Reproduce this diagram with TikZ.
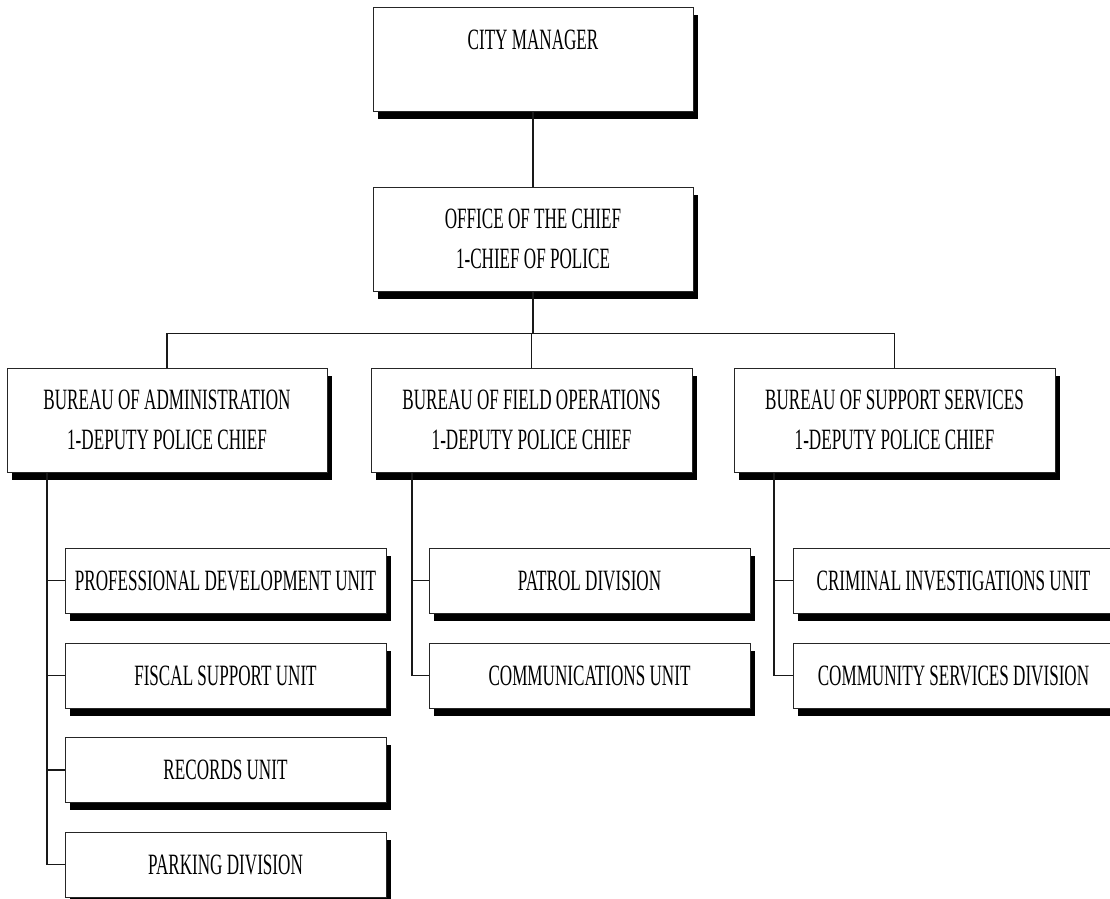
\documentclass[tikz,border=0pt]{standalone}
\usepackage{fontspec}
\setmainfont{Liberation Serif}[FakeStretch=0.58]
\usetikzlibrary{shadows}
\tikzset{
  orgbox/.style={draw=black!85, line width=1pt, fill=white, rectangle, align=center,
    inner sep=0pt, font=\fontsize{29.5}{40}\selectfont,
    drop shadow={shadow xshift=5pt, shadow yshift=-7.5pt, opacity=1, fill=black}},
  bigbox/.style={orgbox, minimum width=320pt, minimum height=104pt},
  subbox/.style={orgbox, minimum width=321pt, minimum height=65pt},
  link/.style={draw=black!90, line width=1.4pt}
}
\begin{document}
\begin{tikzpicture}[x=1pt, y=-1pt]
\clip (0,0) rectangle (1110,898);
\fill[white] (0,0) rectangle (1110,898);

\node[bigbox, minimum height=103.5pt] (cm) at (533,59.25) {CITY MANAGER\\\mbox{}};
\node[bigbox] (oc) at (533,239) {OFFICE OF THE CHIEF\\1-CHIEF OF POLICE};

\node[bigbox] (adm) at (167,420) {BUREAU OF ADMINISTRATION\\1-DEPUTY POLICE CHIEF};
\node[bigbox, minimum width=321pt] (fld) at (531.5,420) {BUREAU OF FIELD OPERATIONS\\1-DEPUTY POLICE CHIEF};
\node[bigbox, minimum width=321pt] (sup) at (894.5,420) {BUREAU OF SUPPORT SERVICES\\1-DEPUTY POLICE CHIEF};

\node[subbox] (pdu) at (225.5,580.5) {PROFESSIONAL DEVELOPMENT UNIT};
\node[subbox] (fsu) at (225.5,675.5) {FISCAL SUPPORT UNIT};
\node[subbox] (rec) at (225.5,770) {RECORDS UNIT};
\node[subbox] (prk) at (225.5,864.5) {PARKING DIVISION};

\node[subbox] (pat) at (589.5,580.5) {PATROL DIVISION};
\node[subbox] (com) at (589.5,675.5) {COMMUNICATIONS UNIT};

\node[subbox] (ciu) at (953.5,580.5) {CRIMINAL INVESTIGATIONS UNIT};
\node[subbox] (csd) at (953.5,675.5) {COMMUNITY SERVICES DIVISION};

\coordinate (bus) at (533,333.5);
\coordinate (ax) at (47,0);
\coordinate (fx) at (412,0);
\coordinate (sx) at (774,0);

\draw[link] (cm.south) -- (oc.north);
\draw[link] (oc.south) -- (bus);
\draw[link] (adm.north) |- (bus) -| (sup.north);
\draw[link] (fld.north) -- (fld.north |- bus);

\draw[link] (adm.south -| ax) |- (prk.west);
\draw[link] (ax |- pdu.west) -- (pdu.west);
\draw[link] (ax |- fsu.west) -- (fsu.west);
\draw[link] (ax |- rec.west) -- (rec.west);

\draw[link] (fld.south -| fx) |- (com.west);
\draw[link] (fx |- pat.west) -- (pat.west);

\draw[link] (sup.south -| sx) |- (csd.west);
\draw[link] (sx |- ciu.west) -- (ciu.west);
\end{tikzpicture}
\end{document}
